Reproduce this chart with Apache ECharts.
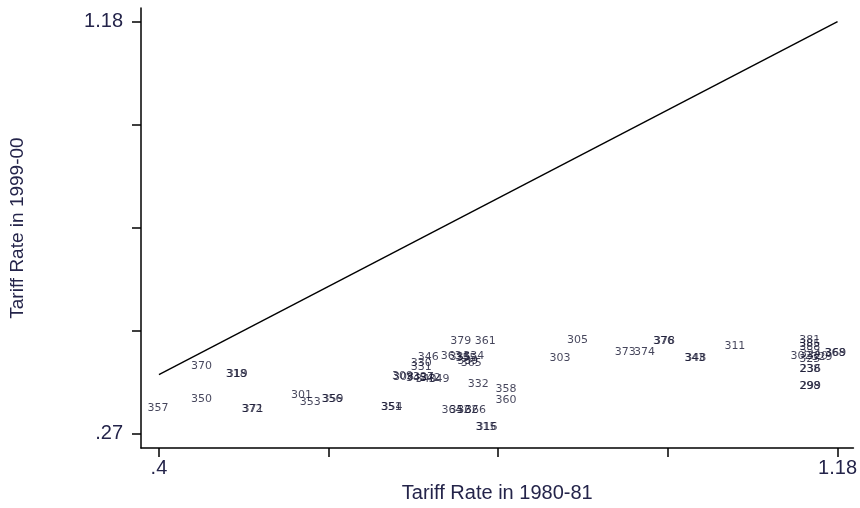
<!DOCTYPE html>
<html>
<head>
<meta charset="utf-8">
<script src="https://cdn.jsdelivr.net/npm/echarts@6/dist/echarts.min.js"></script>
<style>html,body{margin:0;padding:0;background:#fff}#c{width:860px;height:508px}</style>
</head>
<body>
<div id="c"></div>
<script>
// Industry codes (point labels)
const labels = ["357","370","318","319","350","372","371","301","353","356","359","351","354",
  "346","330","331","309","308","345","327","340","342","349","379","361","363","335","355","334",
  "339","365","332","358","360","364","352","362","366","315","316","305","303","373","374","376",
  "378","343","348","311","381","385","388","302","324","320","329","325","368","369","238","236","298","299"];
// Tariff rate 1980-81
const tariff8081 = [0.399,0.449,0.489,0.490,0.449,0.507,0.508,0.564,0.574,0.599,0.600,0.667,0.668,
  0.7095,0.7015,0.7015,0.680,0.681,0.696,0.704,0.707,0.712,0.722,0.747,0.775,0.736,0.746,0.753,0.762,
  0.755,0.759,0.767,0.799,0.799,0.737,0.746,0.755,0.764,0.776,0.777,0.881,0.861,0.936,0.958,0.980,
  0.981,1.016,1.017,1.062,1.148,1.148,1.148,1.138,1.149,1.157,1.162,1.148,1.177,1.178,1.148,1.149,1.148,1.149];
// Tariff rate 1999-00
const tariff9900 = [0.326,0.419,0.402,0.402,0.345,0.324,0.324,0.354,0.339,0.345,0.345,0.328,0.328,
  0.438,0.425,0.417,0.397,0.395,0.393,0.395,0.389,0.393,0.389,0.473,0.473,0.440,0.438,0.436,0.440,
  0.430,0.425,0.380,0.369,0.343,0.322,0.322,0.322,0.322,0.285,0.285,0.477,0.436,0.449,0.449,0.475,
  0.475,0.436,0.436,0.462,0.477,0.468,0.460,0.440,0.445,0.440,0.438,0.434,0.447,0.447,0.412,0.412,0.374,0.374];
// 45-degree reference line endpoints
const lineX = [0.4, 1.18];
const lineY = [0.4, 1.18];
// Tick values
const xTicks = [0.4, 0.595, 0.79, 0.985, 1.18];
const xTickLabels = [0.4, 1.18];
const yTicks = [0.27, 0.4975, 0.725, 0.9525, 1.18];
const yTickLabels = [0.27, 1.18];

const fmt = v => { const s = (+v).toFixed(2).replace(/0+$/,'').replace(/\.$/,''); return s.startsWith('0.') ? s.slice(1) : s; };
const txt = '#24244a';
const pts = labels.map((l,i)=>[tariff8081[i], tariff9900[i], l]);
const chart = echarts.init(document.getElementById('c'), null, {renderer:'canvas'});
chart.setOption({
  animation:false,
  backgroundColor:'#fff',
  grid:{left:141,right:2,top:8,bottom:49,containLabel:false},
  xAxis:{type:'value',min:0.3794,max:1.1983,
    name:'Tariff Rate in 1980-81',nameLocation:'middle',nameGap:28,
    nameTextStyle:{fontFamily:'Liberation Sans',fontSize:20,color:txt},
    axisLine:{show:true,lineStyle:{color:'#000',width:1.5}},
    axisTick:{show:true,length:9,customValues:xTicks,lineStyle:{color:'#000',width:1.5}},
    axisLabel:{customValues:xTickLabels,formatter:fmt,fontFamily:'Liberation Sans',fontSize:20,color:txt,margin:10},
    splitLine:{show:false}},
  yAxis:{type:'value',min:0.2377,max:1.2103,
    name:'Tariff Rate in 1999-00',nameLocation:'middle',nameGap:114,nameRotate:90,
    nameTextStyle:{fontFamily:'Liberation Sans',fontSize:19,color:txt},
    axisLine:{show:true,lineStyle:{color:'#000',width:1.5}},
    axisTick:{show:true,length:9,customValues:yTicks,lineStyle:{color:'#000',width:1.5}},
    axisLabel:{customValues:yTickLabels,formatter:fmt,fontFamily:'Liberation Sans',fontSize:20,color:txt,margin:18},
    splitLine:{show:false}},
  series:[
    {type:'line',data:lineX.map((x,i)=>[x,lineY[i]]),symbol:'none',lineStyle:{color:'#000',width:1.4},silent:true},
    {type:'scatter',data:pts,symbolSize:1,itemStyle:{color:'rgba(0,0,0,0)'},
      label:{show:true,position:'inside',formatter:p=>p.data[2],fontFamily:'DejaVu Sans',fontSize:11,color:'#161632'},
      labelLayout:{hideOverlap:false}}
  ]
});
</script>
</body>
</html>
